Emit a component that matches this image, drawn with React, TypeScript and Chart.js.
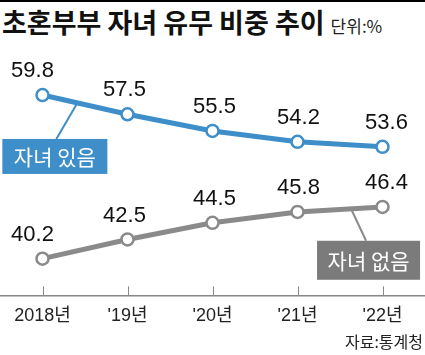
import React, { useEffect, useRef } from "react";
import { Chart, registerables } from "chart.js";

Chart.register(...registerables);

const categories = ["2018년", "'19년", "'20년", "'21년", "'22년"];
const withChildren = [59.8, 57.5, 55.5, 54.2, 53.6];
const withoutChildren = [40.2, 42.5, 44.5, 45.8, 46.4];
const seriesNames = ["자녀 있음", "자녀 없음"];

const BLUE = "#3d8ec9";
const GRAY = "#8a8a8a";
const GRAY_BOX = "#7b7b7b";
const FONT = "'Liberation Sans', 'Noto Sans CJK KR', sans-serif";

const decorPlugin = {
  id: "decor",
  afterDatasetsDraw(chart: any) {
    const { ctx, chartArea, scales } = chart;
    const x = scales.x;
    ctx.save();
    // small upward ticks on axis
    ctx.strokeStyle = "#888";
    ctx.lineWidth = 1;
    categories.forEach((_, i) => {
      const px = Math.round(x.getPixelForValue(i)) + 0.5;
      ctx.beginPath();
      ctx.moveTo(px, chartArea.bottom - 9);
      ctx.lineTo(px, chartArea.bottom);
      ctx.stroke();
    });
    // value labels
    const dxs = [-10, -3, 2, 1, 4];
    ctx.font = `22px ${FONT}`;
    ctx.fillStyle = "#111";
    ctx.textAlign = "center";
    ctx.textBaseline = "middle";
    chart.data.datasets.forEach((ds: any, di: number) => {
      const meta = chart.getDatasetMeta(di);
      meta.data.forEach((pt: any, i: number) => {
        ctx.fillText(ds.data[i].toFixed(1), pt.x + dxs[i], pt.y - 24);
      });
    });
    // annotation boxes
    const drawTag = (di: number, i0: number, t: number, text: string, color: string, boxColor: string, ldx: number, ldy: number, bx: number, by: number, bw: number, bh: number) => {
      const meta = chart.getDatasetMeta(di);
      const a = meta.data[i0], b = meta.data[i0 + 1];
      const ax = a.x + (b.x - a.x) * t;
      const ay = a.y + (b.y - a.y) * t;
      ctx.strokeStyle = color;
      ctx.lineWidth = 2;
      ctx.beginPath();
      ctx.moveTo(ax, ay);
      ctx.lineTo(ax + ldx, ay + ldy);
      ctx.stroke();
      const left = ax + bx, top = ay + by;
      ctx.fillStyle = boxColor;
      ctx.fillRect(left, top, bw, bh);
      ctx.fillStyle = "#fff";
      ctx.font = `21px 'Noto Sans CJK KR', sans-serif`;
      ctx.textAlign = "center";
      ctx.textBaseline = "middle";
      ctx.fillText(text, left + bw / 2, top + bh / 2 + 1);
    };
    drawTag(0, 0, 0.41, seriesNames[0], BLUE, BLUE, -21, 36, -75, 36, 105, 35);
    drawTag(1, 3, 0.63, seriesNames[1], GRAY, GRAY_BOX, 15, 32, -34, 32, 103, 39);
    ctx.restore();
  },
};

export default function App() {
  const ref = useRef<HTMLCanvasElement | null>(null);
  useEffect(() => {
    document.body.style.margin = "0";
    const chart = new Chart(ref.current as HTMLCanvasElement, {
      type: "line",
      data: {
        labels: categories,
        datasets: [
          {
            label: seriesNames[0],
            data: withChildren,
            borderColor: BLUE,
            borderWidth: 5,
            pointRadius: 6,
            pointBackgroundColor: "#fff",
            pointBorderColor: BLUE,
            pointBorderWidth: 2.5,
          },
          {
            label: seriesNames[1],
            data: withoutChildren,
            borderColor: GRAY,
            borderWidth: 5,
            pointRadius: 6,
            pointBackgroundColor: "#fff",
            pointBorderColor: GRAY,
            pointBorderWidth: 2.5,
          },
        ],
      },
      options: {
        animation: false,
        responsive: false,
        layout: { autoPadding: false, padding: { top: 60, bottom: 18, left: 0, right: 0 } },
        plugins: { legend: { display: false }, tooltip: { enabled: false } },
        scales: {
          x: {
            offset: true,
            grid: { display: false, drawTicks: false },
            border: { display: true, color: "#888", width: 1.5 },
            ticks: { padding: 10, color: "#222", font: { size: 18, family: FONT } },
          },
          y: { display: false, min: 35.8, max: 64 },
        },
      },
      plugins: [decorPlugin],
    });
    return () => chart.destroy();
  }, []);
  return (
    <div style={{ position: "relative", width: 425, height: 355, background: "#fff", overflow: "hidden" }}>
      <div style={{ position: "absolute", left: 0, top: 0, width: 425, height: 2, background: "#000" }} />
      <div style={{ position: "absolute", left: 2, top: 4, fontFamily: "'Noto Sans CJK KR', sans-serif", fontWeight: 700, fontSize: 27, color: "#111", whiteSpace: "nowrap", lineHeight: "36px" }}>
        초혼부부 자녀 유무 비중 추이
        <span style={{ fontWeight: 400, fontSize: 17, marginLeft: 6, color: "#222" }}>단위:%</span>
      </div>
      <canvas ref={ref} width={425} height={355} style={{ position: "absolute", left: 0, top: 0 }} />
      <div style={{ position: "absolute", right: 2, top: 331, fontFamily: "'Noto Sans CJK KR', sans-serif", fontSize: 16, color: "#222", lineHeight: "20px" }}>
        자료:통계청
      </div>
    </div>
  );
}
